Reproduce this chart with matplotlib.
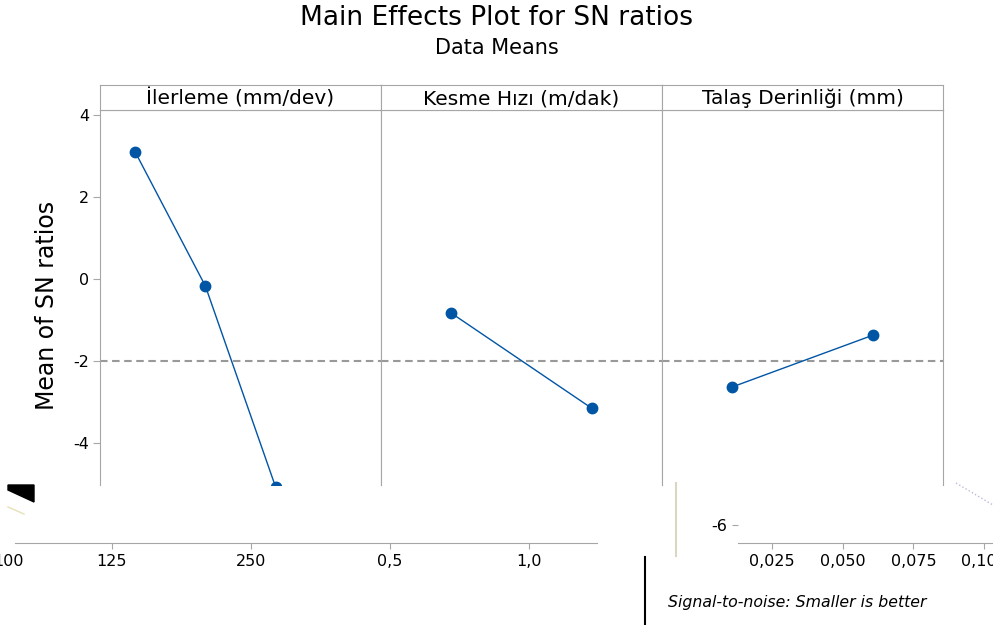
import numpy as np
import matplotlib.pyplot as plt
from matplotlib.lines import Line2D
from matplotlib.patches import Polygon

plt.rcParams['font.family'] = ['DejaVu Sans']
plt.rcParams['axes.unicode_minus'] = False

# Data
factors = ['İlerleme (mm/dev)', 'Kesme Hızı (m/dak)', 'Talaş Derinliği (mm)']
sn_ilerleme = [3.10, -0.17, -5.07, -5.86]
sn_kesme = [-0.83, -3.15]
sn_talas = [-2.63, -1.37]
panel_values = [sn_ilerleme, sn_kesme, sn_talas]

y_ticks = [-4, -2, 0, 2, 4]
y_lim = (-5.02, 4.12)

# leftovers of the lower part of the picture
low_left_labels = ['100', '125', '250', '0,5', '1,0']
low_left_pos = [-0.74, 0, 1, 2, 3]
low_right_labels = ['0,025', '0,050', '0,075', '0,100']
low_right_pos = [0, 1, 2, 3]
low_y_ticks = [-6]

blue = '#0055a5'
frame = '#a6a6a6'

W, H = 993, 625


def fx(px):
    return px / W


def fy(py):
    return 1 - py / H


fig = plt.figure(figsize=(W / 100, H / 100), dpi=100)

grand_mean = np.mean(np.concatenate([np.array(v) for v in panel_values]))

lefts = [100, 381, 662]
pw = 281
for i, (name, vals) in enumerate(zip(factors, panel_values)):
    ax = fig.add_axes([fx(lefts[i]), fy(485), pw / W, (485 - 110) / H])
    n = len(vals)
    xs = np.arange(1, n + 1)
    ax.plot(xs, vals, color=blue, lw=1.0, marker='o', ms=7.5,
            markeredgecolor=blue, markerfacecolor=blue)
    ax.axhline(grand_mean, color='#999999', lw=1.5, ls=(0, (3.6, 2.2)), zorder=0)
    ax.set_xlim(0.5, n + 0.5)
    ax.set_ylim(*y_lim)
    ax.set_xticks([])
    for s in ['left', 'right', 'top']:
        ax.spines[s].set_color(frame)
    ax.spines['bottom'].set_visible(False)
    if i == 0:
        ax.set_yticks(y_ticks)
        ax.tick_params(axis='y', direction='out', length=5, color=frame,
                       labelsize=11.5, pad=3)
    else:
        ax.set_yticks([])

    sax = fig.add_axes([fx(lefts[i]), fy(110), pw / W, 25 / H])
    sax.set_xticks([])
    sax.set_yticks([])
    for s in sax.spines.values():
        s.set_color(frame)
    sax.text(0.5, 0.45, name, ha='center', va='center', fontsize=14.5,
             transform=sax.transAxes)

fig.text(0.5, fy(18), 'Main Effects Plot for SN ratios', ha='center',
         va='center', fontsize=19)
fig.text(0.5, fy(48), 'Data Means', ha='center', va='center', fontsize=15)
fig.text(fx(47), fy(305), 'Mean of SN ratios', rotation=90, ha='center',
         va='center', fontsize=17)

# lower left axis remnant
axl = fig.add_axes([fx(8), fy(543), (597 - 8) / W, 0.001])
axl.set_xlim((8 - 106) / 140.7 - 0.05, (597 - 106) / 140.7)
axl.set_xticks(low_left_pos)
axl.set_xticklabels(low_left_labels)
axl.set_yticks([])
for s in ['left', 'right', 'top']:
    axl.spines[s].set_visible(False)
axl.spines['bottom'].set_color(frame)
axl.spines['bottom'].set_bounds((8 - 106) / 140.7, (597 - 106) / 140.7)
axl.tick_params(axis='x', length=4, color=frame, labelsize=11.5, pad=4)
axl.xaxis.get_major_ticks()[0].tick1line.set_visible(False)
axl.patch.set_visible(False)

# lower right axis remnant
axr = fig.add_axes([fx(738), fy(543), (993 - 738) / W, (543 - 500) / H])
axr.set_xlim((738 - 772) / 70.7, (993 - 772) / 70.7)
axr.set_ylim((279 - 543) / 41, (279 - 500) / 41)
axr.set_xticks(low_right_pos)
axr.set_xticklabels(low_right_labels)
axr.set_yticks(low_y_ticks)
for s in ['left', 'right', 'top']:
    axr.spines[s].set_visible(False)
axr.spines['bottom'].set_color(frame)
axr.tick_params(axis='both', length=4, color=frame, labelsize=11.5, pad=4)
axr.patch.set_visible(False)

# stray bits of the picture
fig.add_artist(Line2D([fx(645), fx(645)], [fy(557), fy(625)], color='black',
                      lw=1.5, transform=fig.transFigure))
fig.add_artist(Line2D([fx(676), fx(676)], [fy(483), fy(556)], color='#d9d6c4',
                      lw=1.5, transform=fig.transFigure))
fig.add_artist(Line2D([fx(956), fx(993)], [fy(483), fy(505)], color='#b8bad6',
                      lw=1, ls=':', transform=fig.transFigure))
fig.add_artist(Line2D([fx(8), fx(24)], [fy(507), fy(514)], color='#e6e0b8',
                      lw=1, transform=fig.transFigure))
fig.add_artist(Polygon([(fx(8), fy(485)), (fx(34), fy(485)), (fx(34), fy(502)),
                        (fx(8), fy(490))], closed=True, color='black',
                       transform=fig.transFigure))

fig.text(fx(668), fy(602), 'Signal-to-noise: Smaller is better', ha='left',
         va='center', fontsize=11.3, style='italic')

fig.savefig('out.png', dpi=100)
